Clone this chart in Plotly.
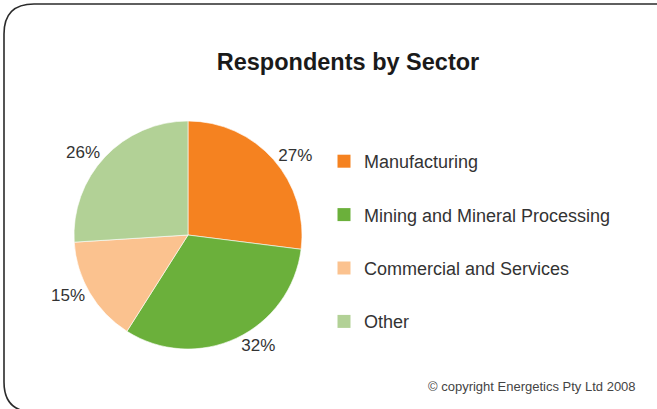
import plotly.graph_objects as go

W, H = 657, 409

sectors = ["Manufacturing", "Mining and Mineral Processing", "Commercial and Services", "Other"]
shares = [27, 32, 15, 26]
colors = ["#F58220", "#6BB03B", "#FBC28F", "#B2D196"]

title_text = "Respondents by Sector"
copyright_text = "© copyright Energetics Pty Ltd 2008"

fig = go.Figure()

fig.add_trace(go.Pie(
    labels=sectors,
    values=shares,
    sort=False,
    direction="clockwise",
    rotation=0,
    marker=dict(colors=colors, line=dict(color="#FFFFFF", width=0.6)),
    texttemplate="%{value}%",
    textposition="outside",
    textfont=dict(family="Liberation Sans, Arial, sans-serif", size=17, color="#333333"),
    showlegend=False,
    hoverinfo="label+percent",
    domain=dict(x=[74 / W, 302 / W], y=[(H - 349) / H, (H - 121) / H]),
    automargin=False,
))

for name, col in zip(sectors, colors):
    fig.add_trace(go.Scatter(
        x=[None], y=[None], mode="markers", name=name,
        legendgroup=name,
        marker=dict(symbol="square", size=13, color=col),
        showlegend=True,
    ))

# rounded frame (top-left corner visible, other edges run off the page)
x0, y0, r = 4, 4, 30
x1, y1 = 720, 412
def px(x):
    return x / W
def py(y):
    return 1 - y / H
path = (
    f"M {px(x1)},{py(y0)} L {px(x0 + r)},{py(y0)} "
    f"Q {px(x0)},{py(y0)} {px(x0)},{py(y0 + r)} "
    f"L {px(x0)},{py(y1 - r)} "
    f"Q {px(x0)},{py(y1)} {px(x0 + r)},{py(y1)} "
    f"L {px(x1)},{py(y1)}"
)
fig.add_shape(type="path", path=path, xref="paper", yref="paper",
              line=dict(color="#2B2B2B", width=1.6), layer="below")

fig.add_annotation(
    text=copyright_text, xref="paper", yref="paper",
    x=638 / W, y=1 - 386 / H, xanchor="right", yanchor="middle",
    showarrow=False,
    font=dict(family="Liberation Sans, Arial, sans-serif", size=13, color="#444444"),
)

fig.update_layout(
    width=W, height=H,
    margin=dict(l=0, r=0, t=0, b=0),
    paper_bgcolor="#FFFFFF",
    plot_bgcolor="#FFFFFF",
    title=dict(
        text=f"<b>{title_text}</b>",
        x=348 / W, xanchor="center",
        y=1 - 62 / H, yanchor="middle",
        font=dict(family="Liberation Sans, Arial, sans-serif", size=23.5, color="#1A1A1A"),
    ),
    xaxis=dict(visible=False),
    yaxis=dict(visible=False),
    legend=dict(
        x=324 / W, xanchor="left",
        y=1 - 143 / H, yanchor="top",
        font=dict(family="Liberation Sans, Arial, sans-serif", size=18, color="#333333"),
        tracegroupgap=27,
        bgcolor="rgba(0,0,0,0)",
        itemclick=False,
    ),
)

fig.write_html(
    "out.html",
    config={"displayModeBar": False},
    post_script="document.body.style.margin='0';document.body.style.overflow='hidden';",
)
